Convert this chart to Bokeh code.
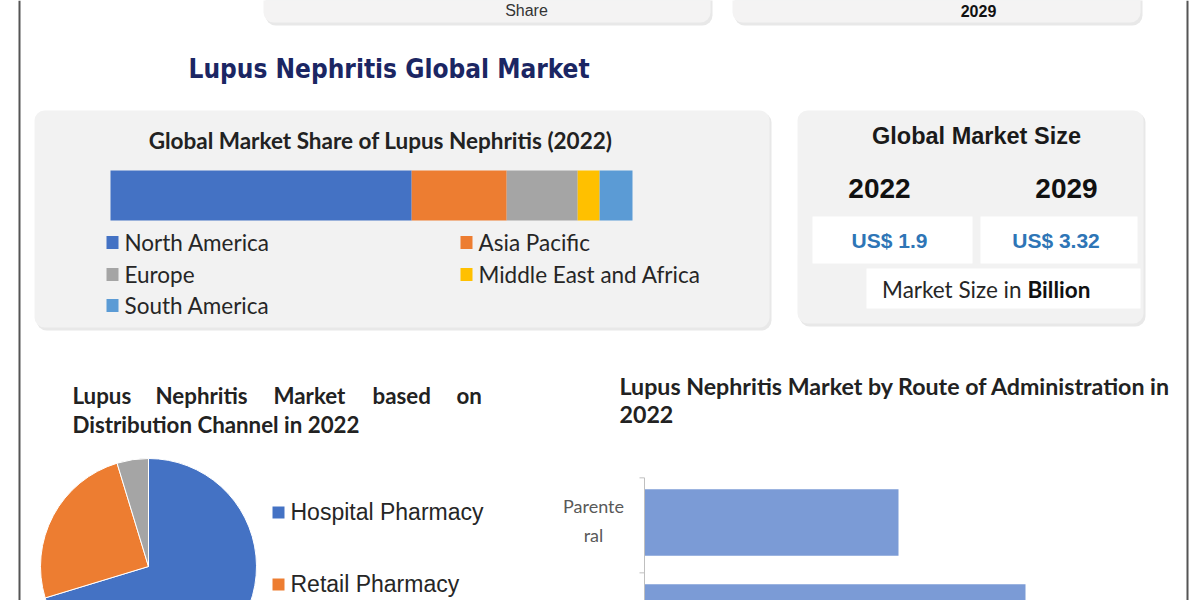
import math
from bokeh.plotting import figure
from bokeh.models import Range1d, ColumnDataSource
from bokeh.core.properties import value
from bokeh.embed import file_html
from bokeh.resources import INLINE

# ---------------- data ----------------
regions = ["North America", "Asia Pacific", "Europe", "Middle East and Africa", "South America"]
region_share = [57.7, 18.2, 13.6, 4.2, 6.3]
region_colors = ["#4472C4", "#ED7D31", "#A5A5A5", "#FFC000", "#5B9BD5"]

size_years = ["2022", "2029"]
size_values = [1.9, 3.32]

channels = ["Hospital Pharmacy", "Retail Pharmacy", "Online Pharmacy"]
channel_share = [70.3, 25.0, 4.7]
channel_colors = ["#4472C4", "#ED7D31", "#A5A5A5"]

routes = ["Parenteral", "Oral"]
route_labels = ["Parente\nral", "Oral"]
route_values = [40, 60]

# ---------------- canvas ----------------
W, H = 1200, 600


def Y(px):
    return H - px


p = figure(width=W, height=H, x_range=Range1d(0, W), y_range=Range1d(0, H),
           output_backend="svg", toolbar_location=None, min_border=0,
           x_axis_location=None, y_axis_location=None,
           background_fill_color="white", border_fill_color="white",
           outline_line_color=None)
p.grid.visible = False

CAL = "Lato"
ARI = "Liberation Sans"


def txt(x, y, s, size, font=CAL, style="normal", color="#222222", align="left",
        baseline="middle"):
    p.text(x=[x], y=[Y(y)], text=[s], text_font=value(font),
           text_font_size=f"{size}px", text_font_style=style, text_color=color,
           text_align=align, text_baseline=baseline)


def card(l, t, r, b, color="#f2f2f2", radius=10, shadow=True):
    if shadow:
        p.quad(left=[l + 2], right=[r + 2], top=[Y(t) - 2], bottom=[Y(b) - 3],
               fill_color="#e8e8e8", line_color=None, border_radius=radius)
    p.quad(left=[l], right=[r], top=[Y(t)], bottom=[Y(b)],
           fill_color=color, line_color=None, border_radius=radius)


# frame lines
p.segment(x0=[19, 1187], y0=[0, 0], x1=[19, 1187], y1=[H, H], line_color="#555555", line_width=2)

# top (cut) cards
card(263, -30, 710, 22, color="#f4f3f3")
card(732, -30, 1140, 22, color="#f4f3f3")
txt(526, 10, "Share", 16, font=ARI, color="#333333", align="center")
txt(978, 10, "2029", 16, font=ARI, style="bold", color="#111111", align="center")

# main title
txt(188, 68, "Lupus Nephritis Global Market", 26, font="DejaVu Sans Condensed",
    style="bold", color="#1b2663")

# ---------------- card 1: regional share ----------------
card(34, 110, 769, 327)
txt(380, 140, "Global Market Share of Lupus Nephritis (2022)", 22.5, style="bold",
    color="#222222", align="center")

k_share = 522 / 100.0
p.extra_x_ranges["share"] = Range1d(start=-110 / k_share, end=(W - 110) / k_share)
rights, acc = [], 0.0
for v in region_share:
    acc += v
    rights.append(acc)
lefts = [r - v for r, v in zip(rights, region_share)]
src = ColumnDataSource(dict(left=lefts, right=rights, color=region_colors,
                            y=[Y(195)] * len(regions)))
p.hbar(y="y", left="left", right="right", height=50, fill_color="color",
       line_color=None, source=src, x_range_name="share")

leg_pos = [(112, 242), (466, 242), (112, 274), (466, 274), (112, 305)]
for (lx, ly), name, col in zip(leg_pos, regions, region_colors):
    p.rect(x=[lx], y=[Y(ly)], width=12, height=13, fill_color=col, line_color=None)
    txt(lx + 12, ly, name, 22.5, color="#262626")

# ---------------- card 2: market size ----------------
card(797, 110, 1143, 323)
txt(976, 135, "Global Market Size", 23.5, font=ARI, style="bold", color="#1a1a1a", align="center")
year_x = [879, 1066]
box_lr = [(812, 972), (980, 1137)]
for yr, val, yx, (bl, br) in zip(size_years, size_values, year_x, box_lr):
    txt(yx, 188, yr, 28, font=ARI, style="bold", color="#111111", align="center")
    p.quad(left=[bl], right=[br], top=[Y(216)], bottom=[Y(263)], fill_color="white",
           line_color=None)
    txt((bl + br) / 2 - 3, 240, f"US$ {val:g}", 21, font=ARI, style="bold",
        color="#2e75b6", align="center")
p.quad(left=[866], right=[1140], top=[Y(268)], bottom=[Y(308)], fill_color="white",
       line_color=None)
txt(1021, 289, "Market Size in", 22.5, color="#262626", align="right")
txt(1027, 289, "Billion", 22.5, style="bold", color="#111111")

# ---------------- pie: distribution channel ----------------
words1 = [("Lupus", 72), ("Nephritis", 155), ("Market", 273), ("based", 372), ("on", 456)]
for w, wx in words1:
    txt(wx, 395, w, 22.3, style="bold", color="#222222")
txt(72, 424, "Distribution Channel in 2022", 22.3, style="bold", color="#222222")

cum, acc = [], 0.0
for v in channel_share:
    cum.append(acc)
    acc += v
total = sum(channel_share)
starts = [math.pi / 2 - 2 * math.pi * (c + v) / total for c, v in zip(cum, channel_share)]
ends = [math.pi / 2 - 2 * math.pi * c / total for c in cum]
psrc = ColumnDataSource(dict(start=starts, end=ends, color=channel_colors))
p.wedge(x=148, y=Y(566), radius=108, start_angle="start", end_angle="end",
        fill_color="color", line_color="white", line_width=1, source=psrc)

for i, (name, col) in enumerate(zip(channels, channel_colors)):
    ly = 511 + 72 * i
    if ly + 12 > H:
        continue  # entry lies below the visible page, as in the reference
    p.rect(x=[278], y=[Y(ly + 1)], width=12, height=12, fill_color=col, line_color=None)
    txt(290, ly, name, 23, font=ARI, color="#262626")

# ---------------- bars: route of administration ----------------
txt(619, 385, "Lupus Nephritis Market by Route of Administration in", 23.2, style="bold",
    color="#222222")
txt(619, 414, "2022", 23.2, style="bold", color="#222222")

k_route = 254 / 40.0
p.extra_x_ranges["route"] = Range1d(start=-644 / k_route, end=(W - 644) / k_route)
p.extra_y_ranges["route_y"] = Range1d(start=(H - 522) / 95.0, end=(0 - 522) / 95.0)
idx = list(range(len(routes)))
rsrc = ColumnDataSource(dict(y=idx, right=route_values, label=route_labels))
p.hbar(y="y", left=0, right="right", height=0.7, fill_color="#7b9bd6", line_color=None,
       source=rsrc, x_range_name="route", y_range_name="route_y")
p.segment(x0=[0], y0=[-0.47], x1=[0], y1=[len(routes) - 0.4], line_color="#bfbfbf",
          line_width=1, x_range_name="route", y_range_name="route_y")
tick_y = [i - 0.47 for i in range(len(routes) + 1)]
p.segment(x0=[-5 / k_route] * len(tick_y), y0=tick_y, x1=[0] * len(tick_y), y1=tick_y,
          line_color="#bfbfbf", line_width=1, x_range_name="route", y_range_name="route_y")
# category labels that fall inside the page (the lower one is below the page edge)
vis = [i for i in idx if 522 + 95 * i + 25 < H]
lsrc = ColumnDataSource(dict(y=[idx[i] for i in vis], label=[route_labels[i] for i in vis]))
p.text(x=0, y="y", text="label", source=lsrc, x_offset=-51, y_offset=-2,
       text_align="center", text_baseline="middle", text_font=value(CAL),
       text_font_size="18px", text_color="#595959", text_line_height=1.35,
       x_range_name="route", y_range_name="route_y")

open("out.html", "w").write(file_html(p, INLINE))
